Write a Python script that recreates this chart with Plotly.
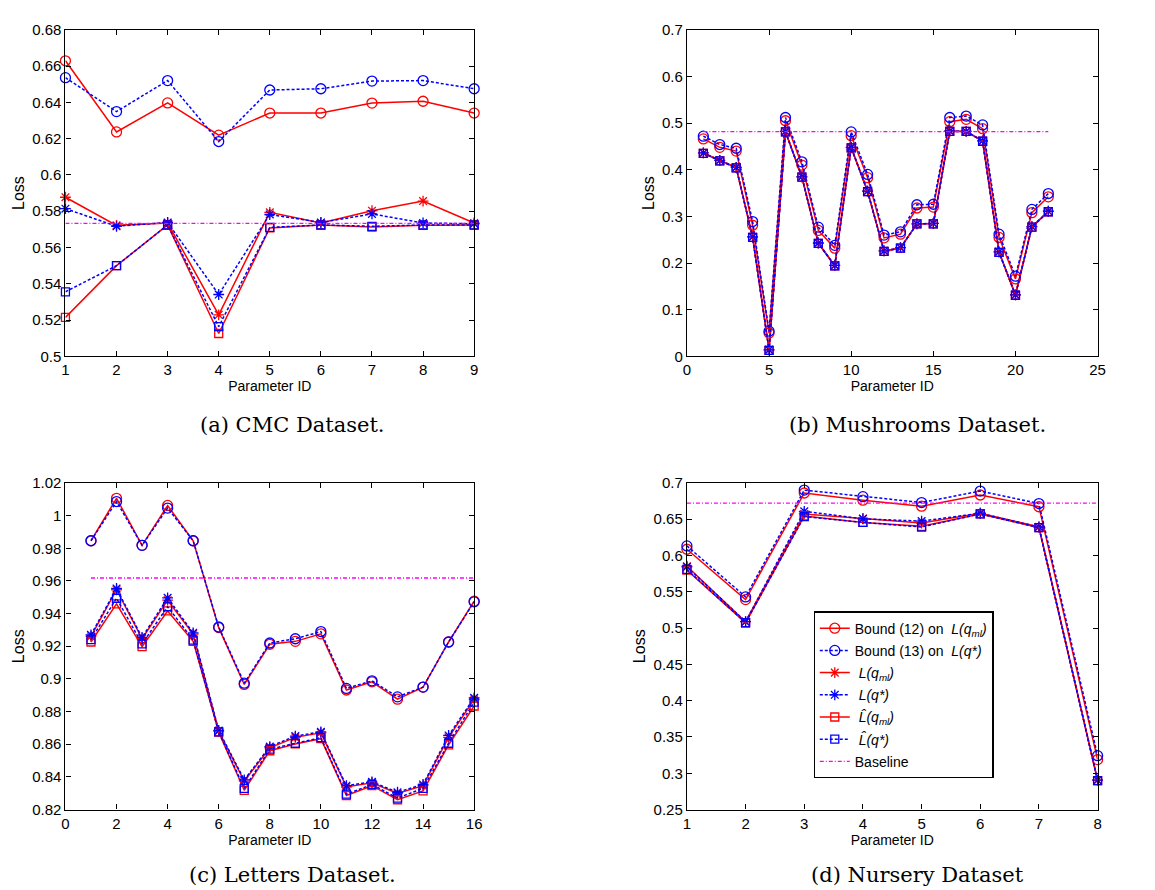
import plotly.graph_objects as go

# ---------------- data ----------------
# (a) CMC
cmc_x = [1, 2, 3, 4, 5, 6, 7, 8, 9]
cmc_bound12 = [0.6629, 0.6237, 0.6397, 0.6219, 0.6341, 0.6341, 0.6396, 0.6406, 0.6341]
cmc_bound13 = [0.6536, 0.6349, 0.6520, 0.6184, 0.6468, 0.6475, 0.6517, 0.6520, 0.6475]
cmc_L_ml = [0.5877, 0.5722, 0.5735, 0.5229, 0.5794, 0.5735, 0.5803, 0.5856, 0.5735]
cmc_L_star = [0.5814, 0.5717, 0.5738, 0.5341, 0.5782, 0.5738, 0.5785, 0.5735, 0.5731]
cmc_Lh_ml = [0.5215, 0.5500, 0.5724, 0.5126, 0.5708, 0.5724, 0.5713, 0.5722, 0.5724]
cmc_Lh_star = [0.5356, 0.5500, 0.5724, 0.5164, 0.5711, 0.5724, 0.5717, 0.5724, 0.5724]
cmc_base_x = [1, 9]
cmc_base_y = [0.5733, 0.5733]

# (b) Mushrooms
mush_x = list(range(1, 23))
mush_bound12 = [0.466, 0.448, 0.440, 0.281, 0.050, 0.505, 0.410, 0.270, 0.232, 0.473, 0.383,
                0.254, 0.262, 0.318, 0.320, 0.503, 0.508, 0.488, 0.255, 0.166, 0.308, 0.342]
mush_bound13 = [0.472, 0.454, 0.446, 0.289, 0.054, 0.512, 0.417, 0.277, 0.238, 0.481, 0.390,
                0.260, 0.267, 0.325, 0.326, 0.512, 0.515, 0.496, 0.262, 0.172, 0.315, 0.349]
mush_L_ml = [0.436, 0.420, 0.405, 0.256, 0.014, 0.482, 0.385, 0.243, 0.195, 0.448, 0.354,
             0.226, 0.233, 0.284, 0.285, 0.483, 0.482, 0.462, 0.224, 0.132, 0.278, 0.311]
mush_L_star = [0.436, 0.420, 0.405, 0.256, 0.014, 0.482, 0.385, 0.243, 0.195, 0.448, 0.354,
               0.226, 0.233, 0.284, 0.285, 0.483, 0.482, 0.462, 0.224, 0.132, 0.278, 0.311]
mush_Lh_ml = [0.435, 0.419, 0.404, 0.255, 0.013, 0.481, 0.384, 0.242, 0.194, 0.447, 0.353,
              0.225, 0.232, 0.284, 0.284, 0.482, 0.482, 0.461, 0.223, 0.131, 0.277, 0.310]
mush_Lh_star = [0.435, 0.419, 0.404, 0.255, 0.013, 0.481, 0.384, 0.242, 0.194, 0.447, 0.353,
                0.225, 0.232, 0.284, 0.284, 0.482, 0.482, 0.461, 0.223, 0.131, 0.277, 0.310]
mush_base_x = [1, 22]
mush_base_y = [0.4817, 0.4817]

# (c) Letters
let_x = list(range(1, 17))
let_bound12 = [0.9846, 1.0106, 0.9818, 1.0062, 0.9846, 0.9314, 0.8966, 0.9212, 0.9230, 0.9276,
               0.8932, 0.8982, 0.8876, 0.8950, 0.9226, 0.9476]
let_bound13 = [0.9846, 1.0086, 0.9818, 1.0046, 0.9846, 0.9318, 0.8974, 0.9220, 0.9246, 0.9290,
               0.8942, 0.8988, 0.8890, 0.8950, 0.9226, 0.9472]
let_L_ml = [0.9260, 0.9546, 0.9246, 0.9482, 0.9274, 0.8680, 0.8374, 0.8578, 0.8642, 0.8670,
            0.8338, 0.8364, 0.8298, 0.8346, 0.8642, 0.8874]
let_L_star = [0.9270, 0.9554, 0.9254, 0.9496, 0.9282, 0.8684, 0.8382, 0.8586, 0.8650, 0.8676,
              0.8346, 0.8370, 0.8306, 0.8354, 0.8654, 0.8884]
let_Lh_ml = [0.9226, 0.9460, 0.9198, 0.9416, 0.9230, 0.8674, 0.8318, 0.8560, 0.8602, 0.8634,
             0.8286, 0.8346, 0.8260, 0.8314, 0.8596, 0.8834]
let_Lh_star = [0.9240, 0.9494, 0.9214, 0.9442, 0.9238, 0.8676, 0.8330, 0.8570, 0.8606, 0.8640,
               0.8294, 0.8354, 0.8270, 0.8330, 0.8606, 0.8858]
let_base_x = [1, 16]
let_base_y = [0.9618, 0.9618]

# (d) Nursery
nur_x = [1, 2, 3, 4, 5, 6, 7, 8]
nur_bound12 = [0.6086, 0.5393, 0.6861, 0.6762, 0.6680, 0.6834, 0.6672, 0.3189]
nur_bound13 = [0.6132, 0.5430, 0.6901, 0.6811, 0.6730, 0.6888, 0.6716, 0.3243]
nur_L_ml = [0.5853, 0.5088, 0.6573, 0.6510, 0.6447, 0.6582, 0.6393, 0.2905]
nur_L_star = [0.5844, 0.5088, 0.6609, 0.6505, 0.6474, 0.6582, 0.6393, 0.2905]
nur_Lh_ml = [0.5799, 0.5074, 0.6545, 0.6456, 0.6402, 0.6573, 0.6384, 0.2900]
nur_Lh_star = [0.5808, 0.5074, 0.6537, 0.6456, 0.6393, 0.6573, 0.6384, 0.2900]
nur_base_x = [1, 8]
nur_base_y = [0.6721, 0.6721]

names = [
    "Bound (12) on&nbsp; <i>L(q<sub>ml</sub>)</i>",
    "Bound (13) on&nbsp; <i>L(q*)</i>",
    "&nbsp;<i>L(q<sub>ml</sub>)</i>",
    "&nbsp;<i>L(q*)</i>",
    "&nbsp;<i>L\u0302(q<sub>ml</sub>)</i>",
    "&nbsp;<i>L\u0302(q*)</i>",
    "Baseline",
]

captions = ["(a) CMC Dataset.", "(b) Mushrooms Dataset.", "(c) Letters Dataset.", "(d) Nursery Dataset"]

# ---------------- styling ----------------
RED = "#ff0000"
BLUE = "#0000ff"
MAG = "#ff00ff"
styles = [
    dict(color=RED, dash="solid", symbol="circle-open", size=10),
    dict(color=BLUE, dash="3px,2px", symbol="circle-open", size=10),
    dict(color=RED, dash="solid", symbol="asterisk-open", size=9),
    dict(color=BLUE, dash="3px,2px", symbol="asterisk-open", size=9),
    dict(color=RED, dash="solid", symbol="square-open", size=8),
    dict(color=BLUE, dash="3px,2px", symbol="square-open", size=8),
]

W, H = 1155, 890
# panel pixel boxes: (left, right, top, bottom)
boxes = [(54, 467, 13, 346), (682, 1097, 13, 346), (54, 467, 475, 808), (682, 1097, 475, 808)]

panels = [
    (cmc_x, [cmc_bound12, cmc_bound13, cmc_L_ml, cmc_L_star, cmc_Lh_ml, cmc_Lh_star], cmc_base_x, cmc_base_y,
     dict(range=[1, 9], dtick=1, tick0=0), dict(range=[0.5, 0.68], dtick=0.02, tick0=0.5)),
    (mush_x, [mush_bound12, mush_bound13, mush_L_ml, mush_L_star, mush_Lh_ml, mush_Lh_star], mush_base_x, mush_base_y,
     dict(range=[0, 25], dtick=5, tick0=0), dict(range=[0, 0.7], dtick=0.1, tick0=0)),
    (let_x, [let_bound12, let_bound13, let_L_ml, let_L_star, let_Lh_ml, let_Lh_star], let_base_x, let_base_y,
     dict(range=[0, 16], dtick=2, tick0=0), dict(range=[0.82, 1.02], dtick=0.02, tick0=0.82)),
    (nur_x, [nur_bound12, nur_bound13, nur_L_ml, nur_L_star, nur_Lh_ml, nur_Lh_star], nur_base_x, nur_base_y,
     dict(range=[1, 8], dtick=1, tick0=0), dict(range=[0.25, 0.7], dtick=0.05, tick0=0.25)),
]

fig = go.Figure()
FONT = "Liberation Sans, Arial, sans-serif"
layout = {}
for i, (px, series, bx, by, xopt, yopt) in enumerate(panels):
    k = "" if i == 0 else str(i + 1)
    xa, ya = "x" + k, "y" + k
    show = (i == 3)
    for s, (vals, st) in enumerate(zip(series, styles)):
        fig.add_trace(go.Scatter(
            x=px, y=vals, xaxis=xa, yaxis=ya, mode="lines+markers", name=names[s],
            showlegend=show, legendgroup="g%d" % s, cliponaxis=False,
            line=dict(color=st["color"], width=1.5, dash=st["dash"]),
            marker=dict(symbol=st["symbol"], size=st["size"], color=st["color"],
                        line=dict(color=st["color"], width=1.3)),
        ))
    fig.add_trace(go.Scatter(
        x=bx, y=by, xaxis=xa, yaxis=ya, mode="lines", name=names[6], showlegend=show,
        legendgroup="g6",
        line=dict(color=MAG, width=1.3, dash="4px,2px,1px,2px"),
    ))
    l, r, t, b = boxes[i]
    common = dict(showline=True, linecolor="black", linewidth=1.2, mirror="ticks", ticks="inside",
                  ticklen=5, tickcolor="black", tickwidth=1, showgrid=False, zeroline=False,
                  tickfont=dict(family=FONT, size=15, color="black"))
    layout["xaxis" + k] = dict(domain=[l / W, r / W], anchor=ya,
                               title=dict(text="Parameter ID", font=dict(family=FONT, size=14, color="black"), standoff=0),
                               **xopt, **common)
    layout["yaxis" + k] = dict(domain=[1 - b / H, 1 - t / H], anchor=xa,
                               title=dict(text="Loss", font=dict(family=FONT, size=16, color="black"), standoff=3),
                               **yopt, **common)

annotations = []
cap_pos = [(283, 416), (915, 416), (283, 875), (915, 875)]
for txt, (cx, cy) in zip(captions, cap_pos):
    annotations.append(dict(text=txt, x=cx / W, y=1 - cy / H, xref="paper", yref="paper",
                            xanchor="center", yanchor="middle", showarrow=False,
                            font=dict(family="DejaVu Serif, serif", size=21, color="black")))

fig.update_layout(
    width=W, height=H, margin=dict(l=0, r=0, t=0, b=0),
    paper_bgcolor="white", plot_bgcolor="white",
    annotations=annotations,
    legend=dict(x=810 / W, y=1 - 606 / H, xanchor="left", yanchor="top",
                bgcolor="white", bordercolor="black", borderwidth=1.2,
                font=dict(family=FONT, size=14, color="black"), itemwidth=30,
                tracegroupgap=1),
    **layout,
)

fig.write_html("out.html")
